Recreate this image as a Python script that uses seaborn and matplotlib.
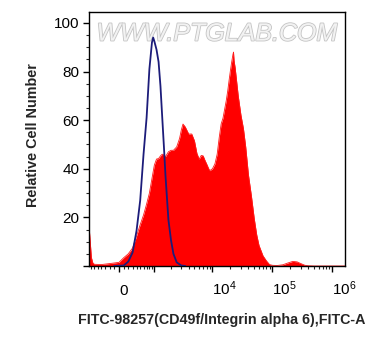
import numpy as np
import matplotlib
matplotlib.use("Agg")
import matplotlib.pyplot as plt
import matplotlib.patheffects as pe
import seaborn as sns

# FITC intensity (raw values) and relative cell number
stained_fitc = [-785, -760, -700, -650, -600, -400, -200, 0, 100, 200, 300, 400, 500, 600,
                700, 800, 900, 1000, 1100, 1200, 1300, 1400, 1500, 1600, 1800, 2000, 2200,
                2500, 2800, 3000, 3200, 3500, 4000, 4500, 5000, 5500, 6000, 6500, 7000, 7500,
                8000, 8500, 9000, 10000, 11000, 12000, 13000, 14000, 15000, 16000, 17000,
                18000, 19000, 20000, 21000, 22000, 22500, 23000, 24000, 25000, 27000, 30000,
                33000, 36000, 40000, 45000, 50000, 55000, 60000, 70000, 80000, 90000, 100000,
                120000, 150000, 180000, 220000, 260000, 300000, 350000, 400000, 500000, 1640000]
stained_count = [16.7, 13, 3.5, 1.2, 0.7, 0.6, 1.0, 1.5, 3.4, 5.0, 7.4, 12.3, 17.0, 21,
                 25.5, 30, 36, 41.5, 44, 44.2, 45.3, 46, 45.7, 45, 47, 47.6, 47.6,
                 49, 52.5, 56, 58.4, 57.2, 54.3, 54.3, 51.5, 46.3, 44, 45.5, 45.3, 43.5,
                 42, 40.5, 39.2, 40, 42, 46, 53, 58.5, 60.8, 64.5, 68,
                 72, 76.5, 80.5, 84, 87, 88, 84.5, 81.5, 77.5, 70, 62,
                 56.5, 49, 37.5, 28.5, 19.5, 12.8, 8.5, 4.2, 2.1, 0.6, 0.3,
                 0.2, 0.5, 1.2, 1.9, 1.7, 1.0, 0.3, 0.1, 0, 0]

control_fitc = [-100, 0, 100, 200, 300, 400, 500, 600, 700, 800, 900, 950, 1000, 1100,
                1200, 1300, 1400, 1500, 1600, 1800, 2000, 2200, 2500, 3000, 3500]
control_count = [0, 0.1, 0.2, 1.8, 5.5, 14.5, 27, 46, 61, 81, 92, 94, 92.5, 89,
                 84, 74, 61, 49, 37, 19, 10.5, 5, 1.5, 0.2, 0]

x_major = [0, 1e3, 1e4, 1e5, 1e6]
x_major_labels = ["0", "", "$\\mathregular{10^4}$", "$\\mathregular{10^5}$", "$\\mathregular{10^6}$"]
y_major = [0, 20, 40, 60, 80, 100]
y_major_labels = ["", "20", "40", "60", "80", "100"]

sns.set_style("ticks")
plt.rcParams["font.family"] = ["Liberation Sans", "DejaVu Sans"]
plt.rcParams["mathtext.fontset"] = "custom"
plt.rcParams["mathtext.rm"] = "Liberation Sans"

W = 550.0  # biexponential-like width


def fwd(x):
    return np.arcsinh(np.asarray(x, dtype=float) / W)


def inv(y):
    return W * np.sinh(np.asarray(y, dtype=float))


fig = plt.figure(figsize=(3.79, 3.47), dpi=100)
ax = fig.add_axes([89 / 379, 1 - 266 / 347, 256 / 379, 254 / 347])
ax.set_xscale("function", functions=(fwd, inv))

ax.fill_between(stained_fitc, stained_count, 0, color="#ff0000", lw=0, zorder=2)
sns.lineplot(x=stained_fitc, y=stained_count, color="#ff1a1a", lw=0.6, ax=ax,
             sort=False, zorder=2)
sns.lineplot(x=control_fitc, y=control_count, color="#1c1c7a", lw=1.3, ax=ax,
             sort=False, zorder=3)

ax.text(0.5, 0.915, "WWW.PTGLAB.COM", transform=ax.transAxes, ha="center", va="center",
        fontsize=18, style="italic", color="#f2f2f2", zorder=1,
        path_effects=[pe.withStroke(linewidth=1.2, foreground="#c4c4c4")])

ax.set_xlim(-785, 1.64e6)
ax.set_ylim(0, 104.5)

x_minor = list(range(-700, 0, 100)) + list(range(100, 1000, 100))
for d in [1e3, 1e4, 1e5]:
    x_minor += [k * d for k in range(2, 10)]
ax.set_xticks(x_major)
ax.set_xticklabels(x_major_labels)
ax.set_xticks(x_minor, minor=True)
ax.set_yticks(y_major)
ax.set_yticklabels(y_major_labels)
ax.set_yticks(np.arange(0, 105, 5), minor=True)

ax.tick_params(axis="both", which="major", length=4, width=1, colors="black",
               labelsize=11, direction="out")
ax.tick_params(axis="both", which="minor", length=2.3, width=0.8, direction="out")
ax.tick_params(axis="x", which="major", pad=17)
ax.tick_params(axis="y", which="major", pad=3)
for lab in ax.get_xticklabels():
    lab.set_ha("left")
    lab.set_va("baseline")

for s in ax.spines.values():
    s.set_visible(True)
    s.set_linewidth(1)
    s.set_color("black")

ax.set_xlabel("FITC-98257(CD49f/Integrin alpha 6),FITC-A", fontsize=10.3,
              fontweight="bold", labelpad=11)
ax.set_ylabel("Relative Cell Number", fontsize=10.4, fontweight="bold", labelpad=10)
ax.xaxis.label.set_x(0.52)
ax.yaxis.label.set_y(0.516)

fig.savefig("out.png", dpi=100)
